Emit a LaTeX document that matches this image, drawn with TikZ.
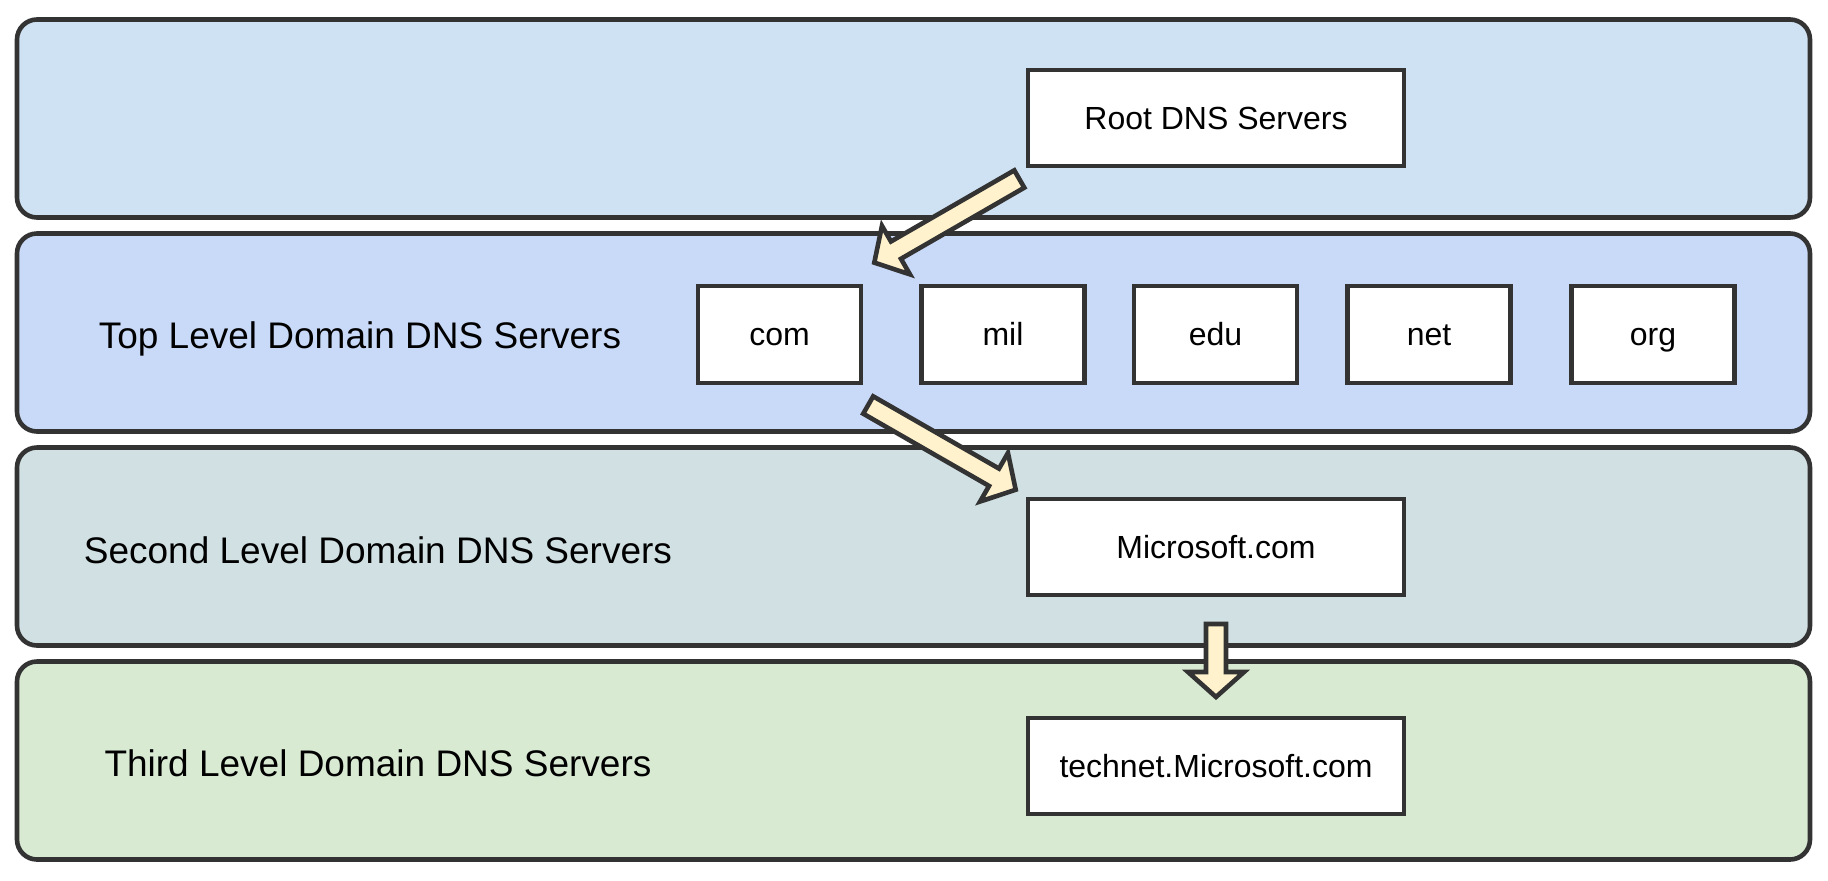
\documentclass[tikz,border=0pt]{standalone}
\usepackage{fontspec}
\setmainfont{Liberation Sans}
\usetikzlibrary{calc}
\definecolor{edge}{HTML}{333333}
\definecolor{bandA}{HTML}{CFE2F3}
\definecolor{bandB}{HTML}{C9DAF8}
\definecolor{bandC}{HTML}{D0E0E3}
\definecolor{bandD}{HTML}{D9EAD3}
\definecolor{arrowfill}{HTML}{FFF2CC}
\tikzset{
  tier/.style={draw=edge, line width=2.3pt, rounded corners=10pt, minimum width=896.5pt, minimum height=99pt, inner sep=0pt},
  srv/.style={draw=edge, fill=white, line width=2.3pt, inner sep=0pt, font=\fontsize{16}{19}\selectfont, text height=11.46pt, text depth=0pt},
  rootsrv/.style={srv, minimum width=188pt, minimum height=48pt},
  tldsrv/.style={srv, minimum width=81.5pt, minimum height=48.5pt},
  lbl/.style={font=\fontsize{18.5}{22}\selectfont, anchor=base, inner sep=0pt},
  blk/.style={draw=edge, fill=arrowfill, line width=2.3pt, line join=miter},
}
\newcommand{\blockarrow}[3]{%
  \coordinate (#3) at ($(#2)!12.5pt!(#1)$);
  \draw[blk] ($(#1)!5pt!90:(#2)$) -- ($(#3)!5pt!90:(#2)$) -- ($(#3)!14pt!90:(#2)$)
    -- (#2) -- ($(#3)!14pt!-90:(#2)$) -- ($(#3)!5pt!-90:(#2)$) -- ($(#1)!5pt!-90:(#2)$) -- cycle;}
\begin{document}
\begin{tikzpicture}[x=0.5pt, y=-0.5pt]
\useasboundingbox (0,0) rectangle (1828,880);
% tiers
\node[tier, fill=bandA] (tier1) at (913.5,118.5) {};
\node[tier, fill=bandB] (tier2) at (913.5,332.5) {};
\node[tier, fill=bandC] (tier3) at (913.5,546.5) {};
\node[tier, fill=bandD] (tier4) at (913.5,760.5) {};
% labels
\node[lbl] (l2) at (360,348) {Top Level Domain DNS Servers};
\node[lbl] (l3) at (378,563) {Second Level Domain DNS Servers};
\node[lbl] (l4) at (378,776) {Third Level Domain DNS Servers};
% servers
\node[rootsrv] (root) at (1216,118) {Root DNS Servers};
\node[tldsrv] (com) at (779.5,334.5) {com};
\node[tldsrv] (mil) at (1003,334.5) {mil};
\node[tldsrv] (edu) at (1215.5,334.5) {edu};
\node[tldsrv] (net) at (1429,334.5) {net};
\node[tldsrv] (org) at (1653,334.5) {org};
\node[rootsrv] (ms) at (1216,547) {Microsoft.com};
\node[rootsrv] (technet) at (1216,766) {technet.Microsoft.com};
% block arrows
\coordinate (a1t) at (1019.3,179);
\coordinate (a1h) at (874.3,262.6);
\coordinate (a2t) at (868.2,405);
\coordinate (a2h) at (1015.7,489.7);
\coordinate (a3t) at (1216,624);
\coordinate (a3h) at (1216,697);
\blockarrow{a1t}{a1h}{a1b}
\blockarrow{a2t}{a2h}{a2b}
\blockarrow{a3t}{a3h}{a3b}
\end{tikzpicture}
\end{document}
